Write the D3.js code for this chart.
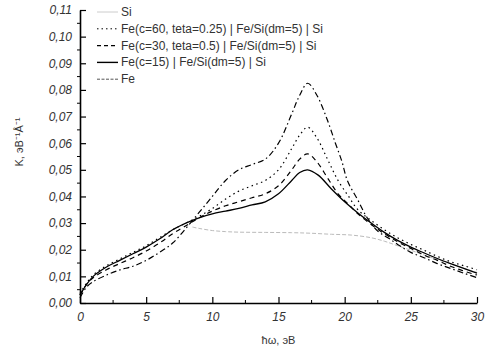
<!DOCTYPE html>
<html>
<head>
<meta charset="utf-8">
<script src="https://cdn.jsdelivr.net/npm/d3@7"></script>
<style>
  body { margin: 0; background: #fff; }
  svg { display: block; font-family: "Liberation Sans", Arial, sans-serif; }
</style>
</head>
<body>
<div id="chart"></div>
<script>
// series values, [energy eV, K]
const si = [[8.5,0.0285],[9,0.028],[10,0.0272],[11,0.0268],[12,0.0266],[14,0.0265],[16,0.0264],[17.4,0.0262],[19,0.0258],[20.5,0.0255],[22,0.0245],[23,0.0232],[24,0.0215],[25,0.0198],[26,0.018],[27,0.0163],[28,0.0147],[29,0.013],[30,0.0115]];
const fe60 = [[0,0.0035],[0.5,0.0075],[1,0.0105],[2,0.014],[3,0.0165],[4,0.019],[5,0.0215],[6,0.0245],[7,0.0275],[8,0.030],[9,0.0325],[10,0.0355],[11,0.039],[12,0.042],[13,0.044],[14,0.046],[15,0.050],[16,0.058],[16.6,0.063],[17.2,0.066],[17.9,0.062],[18.7,0.054],[19.5,0.046],[20.3,0.040],[21,0.035],[22,0.031],[23,0.0275],[24,0.0245],[25,0.022],[26,0.0198],[27,0.0175],[28,0.0155],[29,0.014],[30,0.0125]];
const fe30 = [[0,0.003],[0.5,0.007],[1,0.0095],[2,0.0125],[3,0.0148],[4,0.017],[5,0.0195],[6,0.0225],[7,0.026],[8,0.029],[9,0.032],[10,0.0345],[11,0.0365],[12,0.038],[13,0.0395],[14,0.041],[15,0.044],[16,0.050],[16.6,0.054],[17.2,0.056],[17.9,0.053],[18.7,0.047],[19.5,0.041],[20.3,0.037],[21,0.0335],[22,0.0295],[23,0.026],[24,0.023],[25,0.0205],[26,0.018],[27,0.016],[28,0.0138],[29,0.012],[30,0.0105]];
const fe15 = [[0,0.003],[0.5,0.007],[1,0.010],[2,0.0135],[3,0.016],[4,0.0185],[5,0.021],[6,0.024],[7,0.0275],[8,0.030],[9,0.032],[10,0.0335],[11,0.0345],[12,0.0355],[13,0.0368],[14,0.038],[15,0.041],[16,0.046],[16.6,0.049],[17.2,0.050],[18,0.048],[19,0.0428],[20,0.038],[21,0.0338],[22,0.030],[23,0.0265],[24,0.0235],[25,0.021],[26,0.0188],[27,0.0167],[28,0.0148],[29,0.013],[30,0.0112]];
const fe = [[0,0.002],[0.5,0.006],[1,0.008],[2,0.0105],[3,0.0124],[4,0.0138],[5,0.016],[6,0.019],[7,0.0225],[8,0.028],[9,0.034],[10,0.040],[11,0.046],[12,0.050],[13,0.052],[14,0.054],[15,0.060],[16,0.071],[16.6,0.078],[17.2,0.0825],[17.9,0.078],[18.7,0.0686],[19.3,0.060],[19.8,0.053],[20.2,0.046],[21,0.0386],[21.7,0.032],[22.5,0.027],[23.3,0.0244],[24,0.022],[25,0.019],[26,0.017],[27,0.0148],[28,0.013],[29,0.0112],[30,0.0095]];

const legendLabels = ["Si", "Fe(c=60, teta=0.25) | Fe/Si(dm=5) | Si", "Fe(c=30, teta=0.5) | Fe/Si(dm=5) | Si", "Fe(c=15) | Fe/Si(dm=5) | Si", "Fe"];
const xTicks = [0, 5, 10, 15, 20, 25, 30];
const yTicks = [0, 0.01, 0.02, 0.03, 0.04, 0.05, 0.06, 0.07, 0.08, 0.09, 0.10, 0.11];

const width = 490, height = 354;
const margin = { top: 10, right: 13, bottom: 51, left: 80 };

const x = d3.scaleLinear().domain([0, 30]).range([margin.left, width - margin.right]);
const y = d3.scaleLinear().domain([0, 0.11]).range([height - margin.bottom, margin.top]);

const svg = d3.select("#chart").append("svg")
    .attr("width", width)
    .attr("height", height);

const fmt = d => d3.format(".2f")(d).replace(".", ",");

// x axis
const gx = svg.append("g")
    .attr("transform", `translate(0,${y(0)})`)
    .call(d3.axisBottom(x).tickValues(xTicks).tickSizeInner(-6).tickSizeOuter(0).tickPadding(9));
gx.select(".domain").attr("stroke-width", 1.6);
gx.selectAll("text").attr("font-size", 12).attr("font-style", "italic").attr("fill", "#333");
gx.selectAll(".tick line").attr("stroke-width", 1.2);
svg.append("g")
    .selectAll("line")
    .data(d3.range(2.5, 30, 5))
    .join("line")
    .attr("x1", d => x(d)).attr("x2", d => x(d))
    .attr("y1", y(0)).attr("y2", y(0) - 3)
    .attr("stroke", "#000");

// y axis
const gy = svg.append("g")
    .attr("transform", `translate(${x(0)},0)`)
    .call(d3.axisLeft(y).tickValues(yTicks).tickFormat(fmt).tickSizeInner(-6).tickSizeOuter(0).tickPadding(8));
gy.select(".domain").attr("stroke-width", 1.6);
gy.selectAll("text").attr("font-size", 12).attr("font-style", "italic").attr("fill", "#333");
gy.selectAll(".tick line").attr("stroke-width", 1.2);
svg.append("g")
    .selectAll("line")
    .data(d3.range(0.005, 0.11, 0.01))
    .join("line")
    .attr("x1", x(0)).attr("x2", x(0) - 3)
    .attr("y1", d => y(d)).attr("y2", d => y(d))
    .attr("stroke", "#000");

// axis titles
svg.append("text")
    .attr("x", (x(0) + x(30)) / 2)
    .attr("y", 344)
    .attr("text-anchor", "middle")
    .attr("font-size", 11)
    .attr("fill", "#333")
    .text("ħω, эВ");

svg.append("text")
    .attr("transform", `translate(23,142) rotate(-90)`)
    .attr("text-anchor", "middle")
    .attr("font-size", 11)
    .attr("fill", "#333")
    .text("K, эВ⁻¹Å⁻¹");

// curves
const series = [
    { data: si, stroke: "#bbb", width: 1, dash: "4,2" },
    { data: fe60, stroke: "#000", width: 1.2, dash: "1.5,3.5" },
    { data: fe30, stroke: "#000", width: 1.2, dash: "5,4" },
    { data: fe15, stroke: "#000", width: 1.3, dash: null },
    { data: fe, stroke: "#000", width: 1.2, dash: "6,3,1.5,3" }
];

const line = d3.line()
    .x(d => x(d[0]))
    .y(d => y(d[1]))
    .curve(d3.curveCatmullRom);

svg.append("g")
    .selectAll("path")
    .data(series)
    .join("path")
    .attr("d", d => line(d.data))
    .attr("fill", "none")
    .attr("stroke", d => d.stroke)
    .attr("stroke-width", d => d.width)
    .attr("stroke-dasharray", d => d.dash);

// legend
const legendStyles = [
    { stroke: "#ccc", width: 1, dash: null },
    { stroke: "#000", width: 1, dash: "1.5,3" },
    { stroke: "#000", width: 1.2, dash: "4,3" },
    { stroke: "#000", width: 1.4, dash: null },
    { stroke: "#555", width: 1, dash: "3,1.5" }
];
const lg = svg.append("g");
legendLabels.forEach((label, i) => {
    const yy = 12 + i * 16.8;
    lg.append("line")
        .attr("x1", 97).attr("x2", 118)
        .attr("y1", yy).attr("y2", yy)
        .attr("stroke", legendStyles[i].stroke)
        .attr("stroke-width", legendStyles[i].width)
        .attr("stroke-dasharray", legendStyles[i].dash);
    lg.append("text")
        .attr("x", 121)
        .attr("y", yy + 4)
        .attr("font-size", 12)
        .attr("fill", "#333")
        .text(label);
});
</script>
</body>
</html>
